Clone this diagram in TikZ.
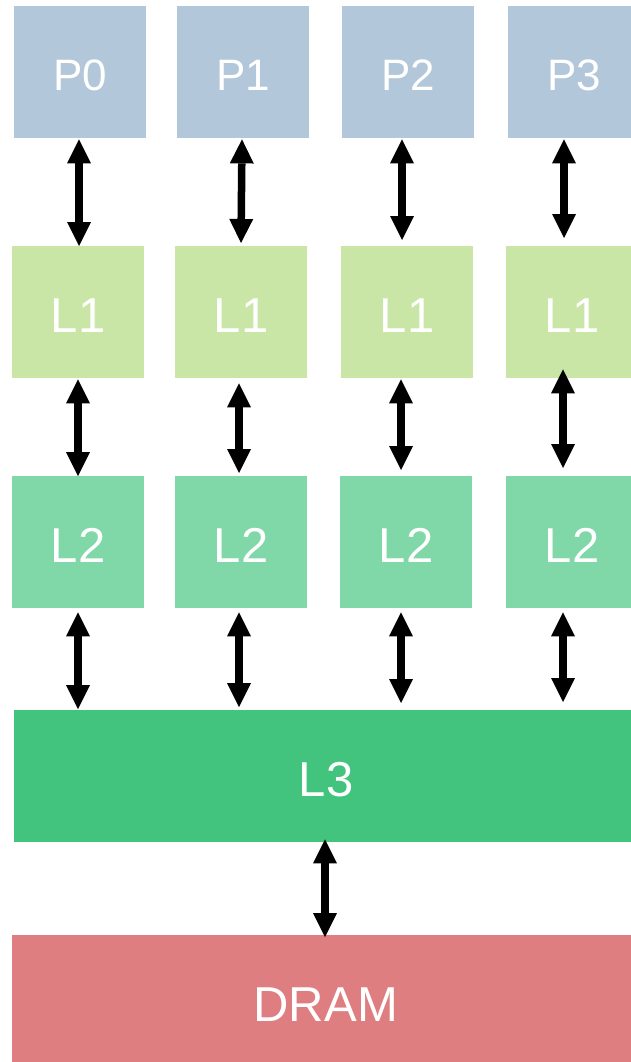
\documentclass[tikz,border=0pt]{standalone}
\usepackage{fontspec}
\setmainfont{Liberation Sans}
\usetikzlibrary{arrows.meta,calc}
\definecolor{pcol}{HTML}{B3C7DA}
\definecolor{lonecol}{HTML}{C9E6A7}
\definecolor{ltwocol}{HTML}{80D7A7}
\definecolor{lthreecol}{HTML}{43C47E}
\definecolor{dramcol}{HTML}{DF7E80}
\tikzset{
  box/.style={draw=none, inner sep=0pt, anchor=north west, text=white, text depth=0pt},
  pbox/.style={box, fill=pcol, minimum width=132pt, minimum height=132pt, font=\fontsize{44}{50}\selectfont, text height=36.5pt},
  lbox/.style={box, minimum width=132pt, minimum height=132pt, font=\fontsize{49}{56}\selectfont, text height=40pt},
  wide/.style={box, font=\fontsize{49}{56}\selectfont, text height=40pt},
  tip/.tip={Triangle[length=24pt 0 0,width=24pt 0 0, line width=0pt]},
  dbl/.style={line width=7.5pt, tip-tip}
}
\begin{document}
\begin{tikzpicture}[x=1pt,y=-1pt]
\useasboundingbox (0,0) rectangle (631,1062);
\begin{scope}
\clip (0,0) rectangle (631,1062);
% processors
\node[pbox] (p0) at (14,6) {P0};
\node[pbox] (p1) at (177,6) {P1};
\node[pbox] (p2) at (342,6) {P2};
\node[pbox] (p3) at (508,6) {P3};
% L1
\node[lbox, fill=lonecol] (la) at (12,246) {L1};
\node[lbox, fill=lonecol] (lb) at (175,246) {L1};
\node[lbox, fill=lonecol] (lc) at (341,246) {L1};
\node[lbox, fill=lonecol] (ld) at (506,246) {L1};
% L2
\node[lbox, fill=ltwocol] (ma) at (12,476) {L2};
\node[lbox, fill=ltwocol] (mb) at (175,476) {L2};
\node[lbox, fill=ltwocol] (mc) at (340,476) {L2};
\node[lbox, fill=ltwocol] (md) at (506,476) {L2};
% L3
\node[wide, fill=lthreecol, minimum width=624pt, minimum height=132pt] (l3) at (14,710) {L3};
% DRAM
\node[wide, fill=dramcol, minimum width=627pt, minimum height=132pt] (dram) at (12,935) {DRAM};
\end{scope}
% arrows P - L1
\draw[dbl] (p0.south -| 79,0) ++(0,1) -- (la.north -| 79,0);
\draw[dbl] (p1.south -| 242,0) ++(0,1) -- ($(lb.north -| 241,0)+(0,-3)$);
\draw[dbl] (p2.south -| 402,0) ++(0,1) -- ($(lc.north -| 402,0)+(0,-6)$);
\draw[dbl] (p3.south -| 564,0) ++(0,1) -- ($(ld.north -| 564,0)+(0,-8)$);
% arrows L1 - L2
\draw[dbl] (la.south -| 78,0) ++(0,1) -- (ma.north -| 78,0);
\draw[dbl] (lb.south -| 239,0) ++(0,5) -- ($(mb.north -| 239,0)+(0,-3)$);
\draw[dbl] (lc.south -| 401,0) ++(0,1) -- ($(mc.north -| 401,0)+(0,-6)$);
\draw[dbl] (ld.south -| 563,0) ++(0,-9) -- ($(md.north -| 563,0)+(0,-8)$);
% arrows L2 - L3
\draw[dbl] (ma.south -| 78,0) ++(0,4) -- ($(l3.north -| 78,0)+(0,-1)$);
\draw[dbl] (mb.south -| 239,0) ++(0,4) -- ($(l3.north -| 239,0)+(0,-3)$);
\draw[dbl] (mc.south -| 401,0) ++(0,4) -- ($(l3.north -| 401,0)+(0,-7)$);
\draw[dbl] (md.south -| 563,0) ++(0,4) -- ($(l3.north -| 563,0)+(0,-8)$);
% L3 - DRAM
\draw[dbl] (l3.south -| 325,0) ++(0,-3) -- ($(dram.north -| 325,0)+(0,2)$);
\end{tikzpicture}
\end{document}
